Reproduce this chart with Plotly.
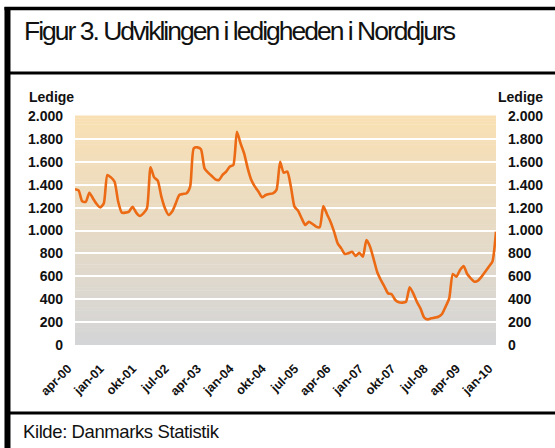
import plotly.graph_objects as go

# ---- data (ledige, monthly, apr-2000 .. jan-2010) ----
month_names = ["jan", "feb", "mar", "apr", "maj", "jun", "jul", "aug", "sep", "okt", "nov", "dec"]
v2000 = [1360, 1350, 1255, 1250, 1330, 1280, 1232, 1202, 1237]          # apr-dec
v2001 = [1485, 1464, 1426, 1252, 1156, 1156, 1165, 1208, 1156, 1127, 1150, 1194]
v2002 = [1552, 1464, 1435, 1296, 1194, 1136, 1165, 1237, 1310, 1319, 1325, 1383]
v2003 = [1718, 1726, 1709, 1543, 1505, 1476, 1447, 1441, 1485, 1514, 1557, 1572]
v2004 = [1863, 1761, 1674, 1543, 1441, 1383, 1339, 1290, 1310, 1319, 1325, 1354]
v2005 = [1601, 1505, 1514, 1383, 1208, 1173, 1106, 1048, 1077, 1057, 1034, 1028]
v2006 = [1214, 1144, 1077, 990, 888, 844, 795, 801, 815, 777, 806, 771]
v2007 = [917, 859, 750, 636, 568, 510, 451, 443, 393, 373, 370, 378]
v2008 = [504, 451, 378, 320, 242, 224, 233, 239, 247, 271, 335, 408]
v2009 = [620, 597, 655, 690, 620, 582, 553, 562, 597, 640, 684, 728]
v2010 = [990]                                                            # jan

values = v2000 + v2001 + v2002 + v2003 + v2004 + v2005 + v2006 + v2007 + v2008 + v2009 + v2010

categories = []
for yr in range(2000, 2011):
    for m, name in enumerate(month_names):
        if (yr == 2000 and m < 3) or (yr == 2010 and m > 0):
            continue
        categories.append(f"{name}-{yr % 100:02d}")

x_tick_labels = ["apr-00", "jan-01", "okt-01", "jul-02", "apr-03", "jan-04", "okt-04",
                 "jul-05", "apr-06", "jan-07", "okt-07", "jul-08", "apr-09", "jan-10"]
y_tick_vals = [0, 200, 400, 600, 800, 1000, 1200, 1400, 1600, 1800, 2000]
y_tick_text = ["0", "200", "400", "600", "800", "1.000", "1.200", "1.400", "1.600", "1.800", "2.000"]

# ---- layout geometry (pixels) ----
W, H = 555, 448
PL, PR, PT, PB = 75, 499, 116, 345


def px(x):
    return (x - PL) / (PR - PL)


def py(y):
    return (PB - y) / (PB - PT)


fig = go.Figure()
fig.add_trace(go.Scatter(
    x=categories, y=values, mode="lines",
    line=dict(color="#EC6A14", width=2.6, shape="spline", smoothing=0.6),
    hoverinfo="skip", showlegend=False,
))
fig.add_trace(go.Scatter(
    x=categories, y=values, mode="lines", yaxis="y2",
    line=dict(color="rgba(0,0,0,0)", width=0),
    hoverinfo="skip", showlegend=False,
))

shapes = []
# gradient background of the plot area
top_c = (249, 224, 180)
bot_c = (212, 213, 215)
n = 80
for i in range(n):
    t = i / (n - 1)
    c = tuple(round(bot_c[k] + (top_c[k] - bot_c[k]) * t) for k in range(3))
    shapes.append(dict(type="rect", xref="paper", yref="paper",
                       x0=0, x1=1, y0=i / n, y1=(i + 1) / n + 0.002,
                       fillcolor=f"rgb{c}", line=dict(width=0), layer="below"))

# frame lines
shapes.append(dict(type="line", xref="paper", yref="paper", x0=px(7), x1=px(7),
                   y0=py(7), y1=py(452), line=dict(color="black", width=6)))
shapes.append(dict(type="line", xref="paper", yref="paper", x0=px(4), x1=px(560),
                   y0=py(8.5), y1=py(8.5), line=dict(color="black", width=3.5)))
shapes.append(dict(type="line", xref="paper", yref="paper", x0=px(7), x1=px(560),
                   y0=py(73), y1=py(73), line=dict(color="black", width=3)))
shapes.append(dict(type="line", xref="paper", yref="paper", x0=px(7), x1=px(560),
                   y0=py(413), y1=py(413), line=dict(color="black", width=3)))

narrow = "Liberation Sans Narrow, Arial Narrow, Liberation Sans, Arial, sans-serif"
annotations = [
    dict(text='<span style="letter-spacing:-2px">Figur 3. Udviklingen i ledigheden i Norddjurs</span>',
         xref="paper", yref="paper",
         x=px(22), y=py(31), xanchor="left", yanchor="middle", showarrow=False,
         font=dict(family=narrow, size=26.5, color="#111111")),
    dict(text='<span style="letter-spacing:-0.4px">Kilde: Danmarks Statistik</span>',
         xref="paper", yref="paper",
         x=px(21), y=py(431), xanchor="left", yanchor="middle", showarrow=False,
         font=dict(family=narrow, size=18.5, color="#111111")),
    dict(text="<b>Ledige</b>", xref="paper", yref="paper",
         x=px(27), y=py(97), xanchor="left", yanchor="middle", showarrow=False,
         font=dict(family="Liberation Sans, Arial, sans-serif", size=14, color="#111111")),
    dict(text="<b>Ledige</b>", xref="paper", yref="paper",
         x=px(548), y=py(97), xanchor="right", yanchor="middle", showarrow=False,
         font=dict(family="Liberation Sans, Arial, sans-serif", size=14, color="#111111")),
]

tick_font = dict(family="Liberation Sans, Arial, sans-serif", size=14, color="#111111", weight="bold")

fig.update_layout(
    width=W, height=H,
    margin=dict(l=PL, r=W - PR, t=PT, b=H - PB, pad=0),
    paper_bgcolor="white", plot_bgcolor="rgba(0,0,0,0)",
    shapes=shapes, annotations=annotations,
    xaxis=dict(
        type="category", range=[0, len(categories) - 1],
        tickmode="array", tickvals=x_tick_labels, ticktext=x_tick_labels,
        tickangle=-45, showgrid=False, zeroline=False, showline=False, ticks="",
        tickfont=dict(family="Liberation Sans, Arial, sans-serif", size=12.5,
                      color="#111111", weight="bold"),
        ticklabelstandoff=13, ticklabelshift=-7,
    ),
    yaxis=dict(
        range=[0, 2000], tickmode="array", tickvals=y_tick_vals, ticktext=y_tick_text,
        showgrid=True, gridcolor="white", gridwidth=1.8, zeroline=False, showline=False,
        ticks="", tickfont=tick_font, ticklabelstandoff=11,
    ),
    yaxis2=dict(
        range=[0, 2000], tickmode="array", tickvals=y_tick_vals, ticktext=y_tick_text,
        overlaying="y", side="right", showgrid=False, zeroline=False, showline=False,
        ticks="", tickfont=tick_font, ticklabelstandoff=11,
    ),
)

fig.write_html("out.html", config={"displayModeBar": False},
               post_script="document.body.style.margin='0';document.body.style.overflow='hidden';")
